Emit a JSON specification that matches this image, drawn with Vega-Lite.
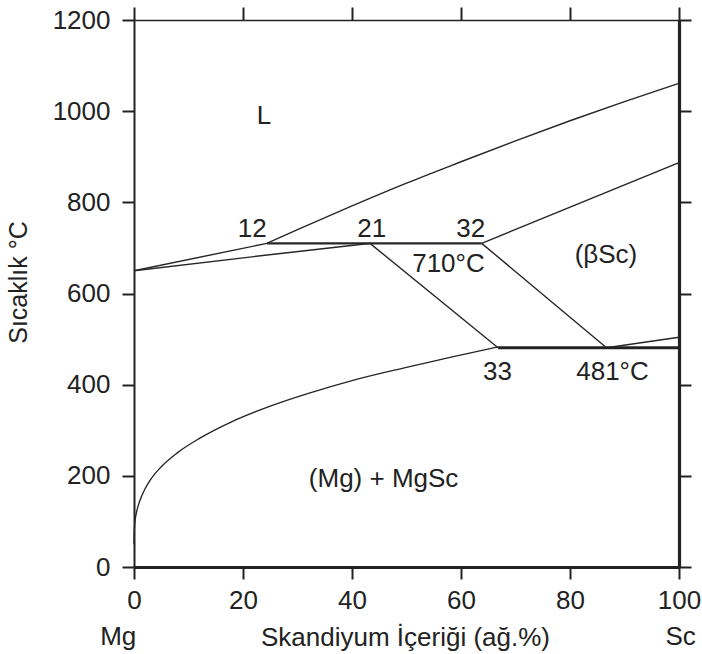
{
  "$schema": "https://vega.github.io/schema/vega-lite/v6.json",
  "width": 545,
  "height": 547,
  "autosize": {"type": "none"},
  "padding": {"left": 134, "top": 20, "right": 23, "bottom": 87},
  "background": "white",
  "config": {
    "view": {"stroke": null},
    "font": "Liberation Sans"
  },
  "datasets": {
    "lines": [
      {"series": "liq_left", "x": 0, "T": 650},
      {"series": "liq_left", "x": 24.4, "T": 710},
      {"series": "liq_upper", "x": 24.4, "T": 710},
      {"series": "liq_upper", "x": 30, "T": 740},
      {"series": "liq_upper", "x": 40, "T": 792},
      {"series": "liq_upper", "x": 50, "T": 842},
      {"series": "liq_upper", "x": 60, "T": 889},
      {"series": "liq_upper", "x": 70, "T": 935},
      {"series": "liq_upper", "x": 80, "T": 979},
      {"series": "liq_upper", "x": 90, "T": 1021},
      {"series": "liq_upper", "x": 100, "T": 1061},
      {"series": "sol_left", "x": 0, "T": 650},
      {"series": "sol_left", "x": 22, "T": 681},
      {"series": "sol_left", "x": 43.3, "T": 710},
      {"series": "eut710", "x": 24.4, "T": 710},
      {"series": "eut710", "x": 63.8, "T": 710},
      {"series": "diag1", "x": 43.3, "T": 710},
      {"series": "diag1", "x": 66.8, "T": 481},
      {"series": "diag2", "x": 63.8, "T": 710},
      {"series": "diag2", "x": 86.7, "T": 481},
      {"series": "bsc_upper", "x": 63.8, "T": 710},
      {"series": "bsc_upper", "x": 100, "T": 887},
      {"series": "eut481", "x": 66.8, "T": 481},
      {"series": "eut481", "x": 100, "T": 481},
      {"series": "bsc_low", "x": 86.7, "T": 481},
      {"series": "bsc_low", "x": 100, "T": 504},
      {"series": "solvus", "x": 0, "T": 50},
      {"series": "solvus", "x": 0.05, "T": 80},
      {"series": "solvus", "x": 0.2, "T": 102},
      {"series": "solvus", "x": 0.5, "T": 122},
      {"series": "solvus", "x": 1, "T": 143},
      {"series": "solvus", "x": 2, "T": 171},
      {"series": "solvus", "x": 3, "T": 191},
      {"series": "solvus", "x": 5, "T": 220},
      {"series": "solvus", "x": 8, "T": 251},
      {"series": "solvus", "x": 12, "T": 282},
      {"series": "solvus", "x": 18, "T": 319},
      {"series": "solvus", "x": 25, "T": 353},
      {"series": "solvus", "x": 32, "T": 381},
      {"series": "solvus", "x": 40, "T": 409},
      {"series": "solvus", "x": 50, "T": 438},
      {"series": "solvus", "x": 58, "T": 460},
      {"series": "solvus", "x": 66.8, "T": 483}
    ],
    "labels": [
      {"x": 23.85, "T": 972, "text": "L"},
      {"x": 21.7, "T": 724, "text": "12"},
      {"x": 43.6, "T": 724, "text": "21"},
      {"x": 61.8, "T": 724, "text": "32"},
      {"x": 57.7, "T": 647, "text": "710°C"},
      {"x": 86.6, "T": 666, "text": "(βSc)"},
      {"x": 66.7, "T": 410, "text": "33"},
      {"x": 87.8, "T": 410, "text": "481°C"},
      {"x": 45.8, "T": 176, "text": "(Mg) + MgSc"},
      {"x": -2.9, "T": -172, "text": "Mg"},
      {"x": 100.3, "T": -172, "text": "Sc"}
    ]
  },
  "resolve": {"axis": {"x": "independent", "y": "independent"}},
  "layer": [
    {
      "data": {"name": "lines"},
      "transform": [{"filter": "datum.series !== 'eut710' && datum.series !== 'eut481'"}],
      "mark": {"type": "line", "interpolate": "monotone", "color": "#262626", "strokeWidth": 1.4},
      "encoding": {
        "x": {
          "field": "x", "type": "quantitative",
          "scale": {"domain": [0, 100], "nice": false, "zero": false},
          "axis": {
            "orient": "bottom", "values": [0, 20, 40, 60, 80, 100], "format": "d",
            "grid": false, "labelFlush": false, "labelOverlap": false,
            "labelFont": "Liberation Sans", "labelFontSize": 26, "labelColor": "#222",
            "labelPadding": 8, "tickSize": 12, "tickWidth": 2, "tickColor": "#222",
            "domainWidth": 3.2, "domainColor": "#222",
            "title": "Skandiyum İçeriği (ağ.%)", "titleFont": "Liberation Sans",
            "titleFontSize": 26, "titleFontWeight": "normal", "titleColor": "#222",
            "titleX": 271, "titleY": 78, "titleBaseline": "alphabetic", "titleAlign": "center"
          }
        },
        "y": {
          "field": "T", "type": "quantitative",
          "scale": {"domain": [0, 1200], "nice": false, "zero": false},
          "axis": {
            "orient": "left", "values": [0, 200, 400, 600, 800, 1000, 1200], "format": "d",
            "grid": false, "labelFlush": false, "labelOverlap": false,
            "labelFont": "Liberation Sans", "labelFontSize": 26, "labelColor": "#222",
            "labelPadding": 12, "tickSize": 12, "tickWidth": 2, "tickColor": "#222",
            "domainWidth": 2, "domainColor": "#222",
            "title": "Sıcaklık °C", "titleFont": "Liberation Sans",
            "titleFontSize": 25, "titleFontWeight": "normal", "titleColor": "#222",
            "titleAngle": -90, "titleX": -108, "titleY": 262,
            "titleBaseline": "alphabetic", "titleAlign": "center"
          }
        },
        "detail": {"field": "series", "type": "nominal"}
      }
    },
    {
      "data": {"name": "lines"},
      "transform": [{"filter": "datum.series === 'eut710'"}],
      "mark": {"type": "line", "color": "#262626", "strokeWidth": 2.2},
      "encoding": {
        "x": {
          "field": "x", "type": "quantitative",
          "axis": {
            "orient": "top", "values": [0, 20, 40, 60, 80, 100], "labels": false,
            "title": null, "grid": false, "tickSize": 13, "tickWidth": 2,
            "tickColor": "#222", "domainWidth": 1.6, "domainColor": "#222"
          }
        },
        "y": {
          "field": "T", "type": "quantitative",
          "axis": {
            "orient": "right", "values": [0, 200, 400, 600, 800, 1000, 1200], "labels": false,
            "title": null, "grid": false, "tickSize": 12, "tickWidth": 2,
            "tickColor": "#222", "domainWidth": 3.2, "domainColor": "#222"
          }
        }
      }
    },
    {
      "data": {"name": "lines"},
      "transform": [{"filter": "datum.series === 'eut481'"}],
      "mark": {"type": "line", "color": "#222", "strokeWidth": 3.2},
      "encoding": {
        "x": {"field": "x", "type": "quantitative", "axis": null},
        "y": {"field": "T", "type": "quantitative", "axis": null}
      }
    },
    {
      "data": {"name": "labels"},
      "mark": {"type": "text", "font": "Liberation Sans", "fontSize": 26, "color": "#222", "align": "center", "baseline": "alphabetic"},
      "encoding": {
        "x": {"field": "x", "type": "quantitative", "axis": null},
        "y": {"field": "T", "type": "quantitative", "axis": null},
        "text": {"field": "text", "type": "nominal"}
      }
    }
  ]
}
